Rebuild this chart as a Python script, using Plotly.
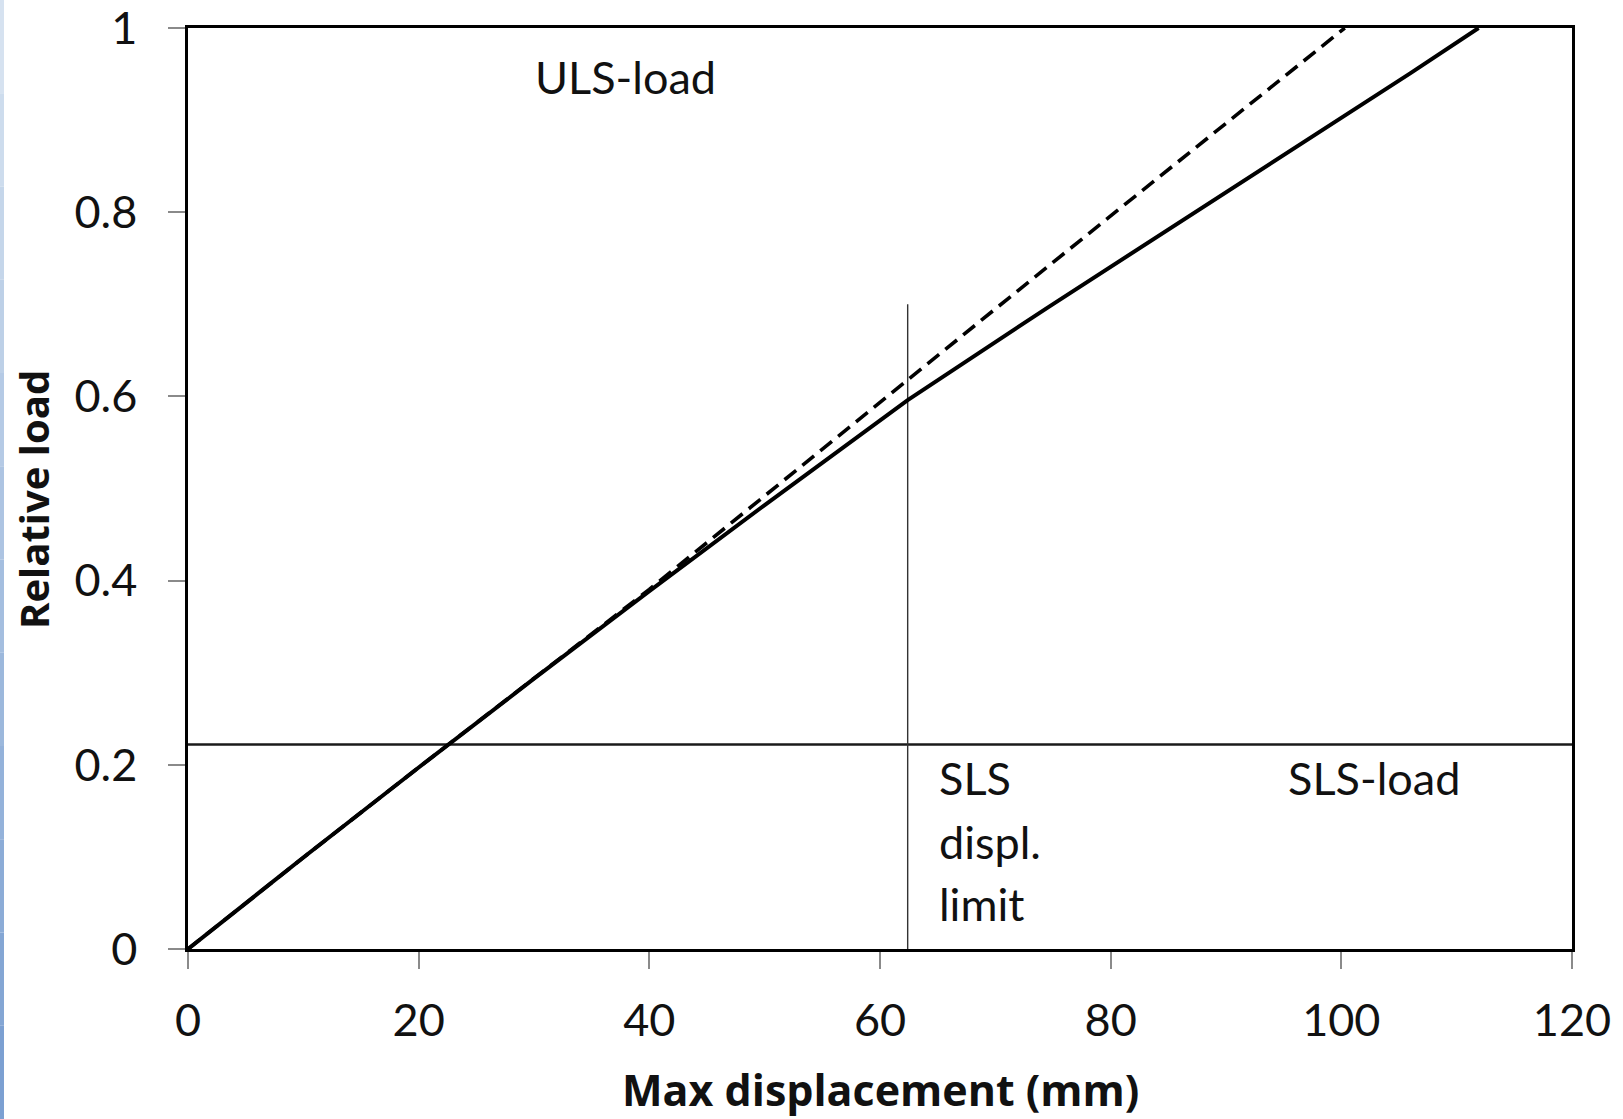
import plotly.graph_objects as go

# ---- data ----
solid_disp = [0, 10, 20, 30, 40, 50, 62.4, 74.6, 106, 111.9]
solid_load = [0, 0.0993, 0.1971, 0.2935, 0.3885, 0.482, 0.596, 0.697, 0.951, 1.0]

dashed_disp = [0, 10, 20, 30, 40, 50, 60, 70, 80, 90, 100.3]
dashed_load = [0, 0.0993, 0.1971, 0.2935, 0.3905, 0.492, 0.594, 0.695, 0.796, 0.897, 1.0]

sls_load_x = [0, 120]
sls_load_y = [0.222, 0.222]

sls_disp_x = [62.4, 62.4]
sls_disp_y = [0, 0.7]

x_ticks = [0, 20, 40, 60, 80, 100, 120]
y_ticks = [0, 0.2, 0.4, 0.6, 0.8, 1.0]
y_ticktext = ["0", "0.2", "0.4", "0.6", "0.8", "1"]

FONT = "Lato"
TFONT = "Open Sans"
TXT = "#111111"

fig = go.Figure()
fig.add_trace(go.Scatter(x=sls_load_x, y=sls_load_y, mode="lines",
                         line=dict(color="#1a1a1a", width=2.5), hoverinfo="skip"))
fig.add_trace(go.Scatter(x=sls_disp_x, y=sls_disp_y, mode="lines",
                         line=dict(color="#333333", width=1.4), hoverinfo="skip"))
fig.add_trace(go.Scatter(x=dashed_disp, y=dashed_load, mode="lines",
                         line=dict(color="#000000", width=3.6, dash="15px,8px"), hoverinfo="skip"))
fig.add_trace(go.Scatter(x=solid_disp, y=solid_load, mode="lines",
                         line=dict(color="#000000", width=4), hoverinfo="skip"))

W, H = 1623, 1119
L, R, T, B = 188, 51, 28, 170
pw, ph = W - L - R, H - T - B

def px_x(p):
    return (p - L) / pw

def px_y(p):
    return (H - B - p) / ph

# decorative blue gradient strip at the left edge
shapes = []
n = 12
for i in range(n):
    t = i / (n - 1)
    r = int(214 - t * 90)
    g = int(226 - t * 66)
    b = int(240 - t * 30)
    shapes.append(dict(type="rect", xref="paper", yref="paper",
                       x0=px_x(0), x1=px_x(4),
                       y0=px_y(H * (i + 1) / n), y1=px_y(H * i / n),
                       fillcolor=f"rgb({r},{g},{b})", line=dict(width=0), layer="below"))

annotations = [
    dict(x=29.88, y=0.9467, text="ULS-load"),
    dict(x=95.2, y=0.1854, text="SLS-load"),
    dict(x=64.96, y=0.1854, text="SLS"),
    dict(x=64.96, y=0.1158, text="displ."),
    dict(x=64.96, y=0.0484, text="limit"),
]
ann = []
for a in annotations:
    ann.append(dict(x=a["x"], y=a["y"], xref="x", yref="y", text=a["text"],
                    showarrow=False, xanchor="left", yanchor="middle",
                    font=dict(family=FONT, size=45, color=TXT)))
ann.append(dict(x=px_x(880), y=px_y(1089), xref="paper", yref="paper",
                text="<b>Max displacement (mm)</b>", showarrow=False,
                xanchor="center", yanchor="middle",
                font=dict(family=TFONT, size=43, color=TXT)))
ann.append(dict(x=px_x(33), y=px_y(500), xref="paper", yref="paper",
                text="<b>Relative load</b>", showarrow=False, textangle=-90,
                xanchor="center", yanchor="middle",
                font=dict(family=TFONT, size=40, color=TXT)))

fig.update_layout(
    width=W, height=H,
    margin=dict(l=L, r=R, t=T, b=B, autoexpand=False),
    plot_bgcolor="white", paper_bgcolor="white",
    showlegend=False,
    shapes=shapes,
    annotations=ann,
    xaxis=dict(range=[0, 120], tickvals=x_ticks, showgrid=False, zeroline=False,
               showline=True, linecolor="#000000", linewidth=2.5, mirror=True,
               ticks="outside", ticklen=17, tickcolor="#8a8a8a", tickwidth=1.5,
               ticklabelstandoff=13, ticklabeloverflow="allow", automargin=False,
               tickfont=dict(family=FONT, size=45, color=TXT)),
    yaxis=dict(range=[0, 1], tickvals=y_ticks, ticktext=y_ticktext,
               showgrid=False, zeroline=False,
               showline=True, linecolor="#000000", linewidth=2.5, mirror=True,
               ticks="outside", ticklen=17, tickcolor="#8a8a8a", tickwidth=1.5,
               ticklabelstandoff=22, ticklabeloverflow="allow", automargin=False,
               tickfont=dict(family=FONT, size=45, color=TXT)),
)

fig.write_html("out.html")
